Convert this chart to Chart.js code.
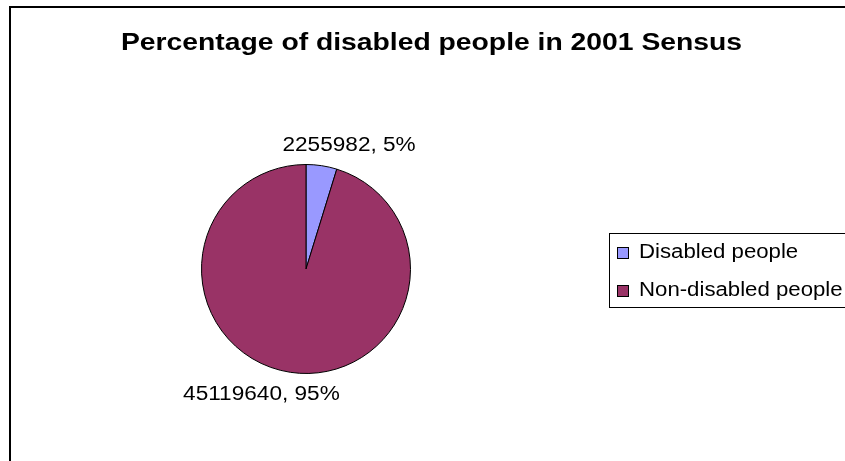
<!DOCTYPE html>
<html>
<head>
<meta charset="utf-8">
<script src="https://cdn.jsdelivr.net/npm/chart.js@4/dist/chart.umd.min.js"></script>
<style>
  html, body { margin: 0; padding: 0; background: #fff; }
  #wrap { width: 845px; height: 461px; }
</style>
</head>
<body>
<div id="wrap"><canvas id="pie-canvas" width="845" height="461"></canvas></div>
<script>
// chart data
var categories = ['Disabled people', 'Non-disabled people'];
var counts = [2255982, 45119640];
var percentLabels = ['5%', '95%'];
var sliceColors = ['#9999FF', '#993366'];
var chartTitle = 'Percentage of disabled people in 2001 Sensus';

// label offsets from the outer edge of each slice (px), baseline anchored
var labelOffsets = [[27.5, -15], [-29, 28]];

// the original text is a bit wider than Liberation Sans, so stretch it
function wideText(c, text, x, y, stretch) {
    c.save();
    c.translate(x, y);
    c.scale(stretch, 1);
    c.fillText(text, 0, 0);
    c.restore();
}

var excelLook = {
    id: 'excelLook',
    beforeDraw: function(chart) {
        var c = chart.ctx;
        c.save();
        c.fillStyle = '#fff';
        c.fillRect(0, 0, chart.width, chart.height);
        // outer chart frame (runs off the right and bottom)
        c.strokeStyle = '#000';
        c.lineWidth = 2;
        c.strokeRect(10, 7, chart.width + 20, chart.height + 20);
        c.restore();
    },
    afterDraw: function(chart) {
        var c = chart.ctx;
        c.save();
        c.fillStyle = '#000';
        c.textBaseline = 'alphabetic';

        // title
        c.font = 'bold 23px "Liberation Sans", Arial, sans-serif';
        c.textAlign = 'center';
        wideText(c, chartTitle, 431.5, 50, 1.23);

        // data labels
        c.font = '20px "Liberation Sans", Arial, sans-serif';
        var arcs = chart.getDatasetMeta(0).data;
        arcs.forEach(function(arc, i) {
            var mid = (arc.startAngle + arc.endAngle) / 2;
            var x = arc.x + Math.cos(mid) * arc.outerRadius + labelOffsets[i][0];
            var y = arc.y + Math.sin(mid) * arc.outerRadius + labelOffsets[i][1];
            wideText(c, counts[i] + ', ' + percentLabels[i], x, y, 1.13);
        });

        // legend box
        c.lineWidth = 1;
        c.strokeStyle = '#000';
        c.strokeRect(609.5, 233.5, 300, 74);
        c.textAlign = 'left';
        categories.forEach(function(name, i) {
            var top = 247.5 + i * 38;
            c.fillStyle = sliceColors[i];
            c.fillRect(617.5, top, 11, 11);
            c.strokeRect(617.5, top, 11, 11);
            c.fillStyle = '#000';
            wideText(c, name, 639, 258 + i * 38, 1.11);
        });
        c.restore();
    }
};

var ctx = document.getElementById('pie-canvas').getContext('2d');

var chart = new Chart(ctx, {
    type: 'pie',
    data: {
        labels: categories,
        datasets: [{
            data: counts,
            backgroundColor: sliceColors,
            borderColor: '#000',
            borderWidth: 1
        }]
    },
    options: {
        responsive: false,
        animation: false,
        layout: {
            padding: { left: 201, right: 434, top: 164, bottom: 87 }
        },
        plugins: {
            legend: { display: false },
            tooltip: { enabled: false },
            title: { display: false }
        }
    },
    plugins: [excelLook]
});
</script>
</body>
</html>
